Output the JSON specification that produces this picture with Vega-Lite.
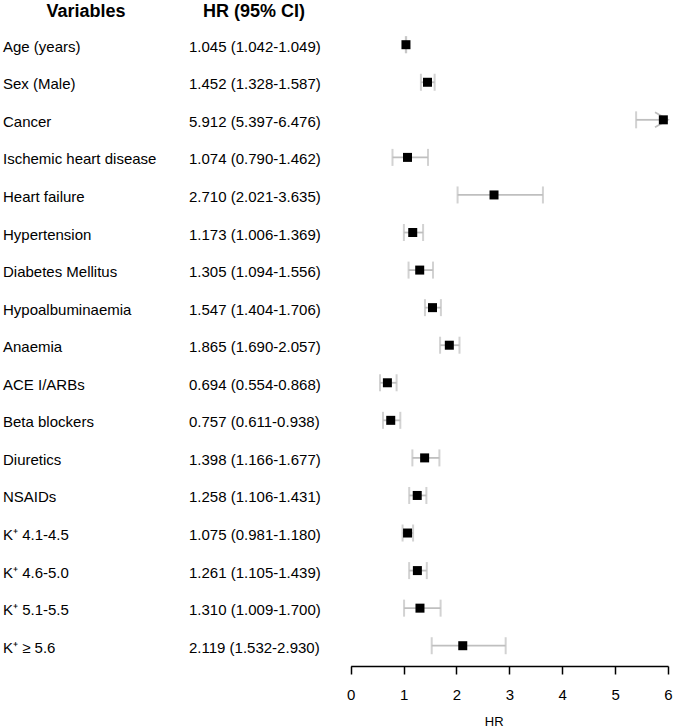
{
  "$schema": "https://vega.github.io/schema/vega-lite/v6.json",
  "width": 675,
  "height": 666,
  "padding": 0,
  "autosize": {"type": "pad"},
  "background": "white",
  "config": {"view": {"stroke": null}, "font": "Liberation Sans"},
  "datasets": {
    "rows": [
      {"row": 1, "variable": "Age (years)", "hr": 1.045, "lo": 1.042, "hi": 1.049, "label": "1.045 (1.042-1.049)"},
      {"row": 2, "variable": "Sex (Male)", "hr": 1.452, "lo": 1.328, "hi": 1.587, "label": "1.452 (1.328-1.587)"},
      {"row": 3, "variable": "Cancer", "hr": 5.912, "lo": 5.397, "hi": 6.476, "label": "5.912 (5.397-6.476)"},
      {"row": 4, "variable": "Ischemic heart disease", "hr": 1.074, "lo": 0.790, "hi": 1.462, "label": "1.074 (0.790-1.462)"},
      {"row": 5, "variable": "Heart failure", "hr": 2.710, "lo": 2.021, "hi": 3.635, "label": "2.710 (2.021-3.635)"},
      {"row": 6, "variable": "Hypertension", "hr": 1.173, "lo": 1.006, "hi": 1.369, "label": "1.173 (1.006-1.369)"},
      {"row": 7, "variable": "Diabetes Mellitus", "hr": 1.305, "lo": 1.094, "hi": 1.556, "label": "1.305 (1.094-1.556)"},
      {"row": 8, "variable": "Hypoalbuminaemia", "hr": 1.547, "lo": 1.404, "hi": 1.706, "label": "1.547 (1.404-1.706)"},
      {"row": 9, "variable": "Anaemia", "hr": 1.865, "lo": 1.690, "hi": 2.057, "label": "1.865 (1.690-2.057)"},
      {"row": 10, "variable": "ACE I/ARBs", "hr": 0.694, "lo": 0.554, "hi": 0.868, "label": "0.694 (0.554-0.868)"},
      {"row": 11, "variable": "Beta blockers", "hr": 0.757, "lo": 0.611, "hi": 0.938, "label": "0.757 (0.611-0.938)"},
      {"row": 12, "variable": "Diuretics", "hr": 1.398, "lo": 1.166, "hi": 1.677, "label": "1.398 (1.166-1.677)"},
      {"row": 13, "variable": "NSAIDs", "hr": 1.258, "lo": 1.106, "hi": 1.431, "label": "1.258 (1.106-1.431)"},
      {"row": 14, "variable": "K⁺ 4.1-4.5", "hr": 1.075, "lo": 0.981, "hi": 1.180, "label": "1.075 (0.981-1.180)"},
      {"row": 15, "variable": "K⁺ 4.6-5.0", "hr": 1.261, "lo": 1.105, "hi": 1.439, "label": "1.261 (1.105-1.439)"},
      {"row": 16, "variable": "K⁺ 5.1-5.5", "hr": 1.310, "lo": 1.009, "hi": 1.700, "label": "1.310 (1.009-1.700)"},
      {"row": 17, "variable": "K⁺ ≥ 5.6", "hr": 2.119, "lo": 1.532, "hi": 2.930, "label": "2.119 (1.532-2.930)"}
    ],
    "headers": [
      {"col": "variable", "title": "Variables", "row": 0},
      {"col": "label", "title": "HR (95% CI)", "row": 0}
    ]
  },
  "encoding": {
    "y": {"field": "row", "type": "quantitative", "scale": {"domain": [-0.19, 17.54], "reverse": true, "nice": false, "zero": false}, "axis": null}
  },
  "layer": [
    {
      "data": {"name": "rows"},
      "transform": [{"fold": ["variable", "label"], "as": ["col", "value"]}],
      "mark": {"type": "text", "align": "left", "baseline": "middle", "fontSize": 15, "dy": 2, "color": "#000000"},
      "encoding": {
        "x": {"field": "col", "type": "nominal", "scale": {"type": "point", "domain": ["variable", "label"], "range": [3, 189], "padding": 0}, "axis": null},
        "text": {"field": "value", "type": "nominal"}
      }
    },
    {
      "data": {"name": "headers"},
      "mark": {"type": "text", "align": "center", "baseline": "middle", "fontSize": 18, "fontWeight": "bold", "dy": 5, "color": "#000000"},
      "encoding": {
        "x": {"field": "col", "type": "nominal", "scale": {"type": "point", "domain": ["variable", "label"], "range": [86, 254], "padding": 0}, "axis": null},
        "text": {"field": "title", "type": "nominal"}
      }
    },
    {
      "data": {"name": "rows"},
      "encoding": {
        "x": {
          "field": "hr", "type": "quantitative",
          "scale": {"domain": [0, 6], "range": [350.7, 668], "clamp": true, "nice": false, "zero": false},
          "axis": {
            "values": [0, 1, 2, 3, 4, 5, 6], "grid": false, "labelFlush": false,
            "domainColor": "#000000", "domainWidth": 1.5,
            "tickColor": "#000000", "tickWidth": 1.5, "tickSize": 8,
            "labelFontSize": 15, "labelColor": "#000000", "labelPadding": 13,
            "title": "HR", "titleFontSize": 13, "titleFontWeight": "normal", "titleColor": "#000000",
            "titleX": 493.7, "titleY": 49, "titleBaseline": "top"
          }
        }
      },
      "layer": [
        {
          "data": {"values": [{"ref": 1}]},
          "mark": {"type": "rule", "color": "#cccccc", "strokeWidth": 1.5},
          "encoding": {
            "x": {"datum": 1, "type": "quantitative"},
            "y": {"datum": 0.555, "type": "quantitative"},
            "y2": {"datum": 17.54}
          }
        },
        {
          "mark": {"type": "rule", "color": "#bfbfbf", "strokeWidth": 1.8},
          "encoding": {
            "x": {"field": "lo", "type": "quantitative"},
            "x2": {"field": "hi"}
          }
        },
        {
          "mark": {"type": "tick", "orient": "vertical", "color": "#bfbfbf", "thickness": 2, "size": 17},
          "encoding": {"x": {"field": "lo", "type": "quantitative"}}
        },
        {
          "transform": [{"filter": "datum.hi <= 6"}],
          "mark": {"type": "tick", "orient": "vertical", "color": "#bfbfbf", "thickness": 2, "size": 17},
          "encoding": {"x": {"field": "hi", "type": "quantitative"}}
        },
        {
          "transform": [{"filter": "datum.hi > 6"}],
          "mark": {"type": "point", "shape": "M -1 -0.577 L 0 0 L -1 0.577", "filled": false, "stroke": "#bfbfbf", "strokeWidth": 1.8, "size": 676, "opacity": 1},
          "encoding": {"x": {"field": "hi", "type": "quantitative"}}
        },
        {
          "mark": {"type": "point", "shape": "square", "filled": true, "color": "#000000", "size": 81, "opacity": 1},
          "encoding": {"x": {"field": "hr", "type": "quantitative"}}
        }
      ]
    }
  ],
  "resolve": {"scale": {"x": "independent"}}
}
